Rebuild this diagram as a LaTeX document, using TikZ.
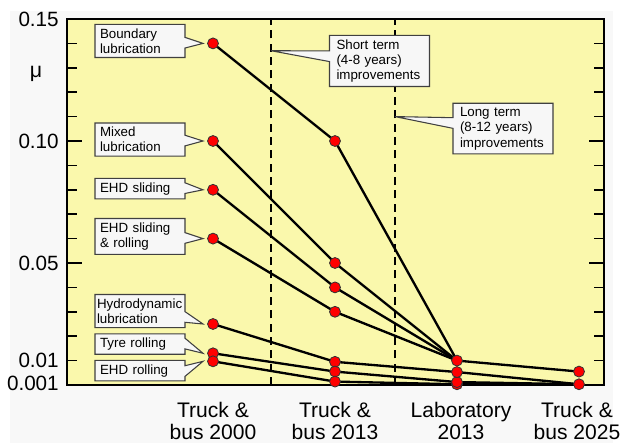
\documentclass[tikz,border=0pt]{standalone}
\usepackage{fontspec}
\setmainfont{Liberation Sans}
\usetikzlibrary{shapes.callouts}
\definecolor{plotbg}{RGB}{250,248,172}
\definecolor{panelbg}{RGB}{248,248,248}
\definecolor{boxbg}{RGB}{247,247,247}
\tikzset{
  dot/.style={circle,fill=red,draw=black!80,line width=0.6pt,minimum size=8.2pt,inner sep=0pt},
  link/.style={line width=1.75pt},
  callbox/.style={rectangle callout,fill=boxbg,draw=black!75,line width=0.8pt,callout pointer width=8pt,align=left,font=\fontsize{10}{11.5}\selectfont,inner ysep=3pt},
  leftbox/.style={callbox,text width=60pt,inner xsep=3.75pt},
  termbox/.style={callbox,text width=64.5pt,inner xsep=5.25pt},
  ticklab/.style={anchor=east,font=\fontsize{15.5}{17}\selectfont,inner sep=0pt},
  vehlab/.style={anchor=north,align=center,font=\fontsize{15.8}{16.5}\selectfont,inner sep=0pt}
}
\begin{document}
\begin{tikzpicture}[x=0.75pt,y=18.3pt]
            \useasboundingbox (-67,-2.377) rectangle (557,15.779);
            \fill[panelbg] (-57,-2.377) rectangle (546,15.33);
            \fill[plotbg] (0,0) rectangle (537,15);
            \foreach \m in {1,...,14} {
              \draw[line width=1.2pt] (0,\m) -- (10,\m);
              \draw[line width=1.2pt] (537,\m) -- (527,\m);
            }
            \draw[line width=1.2pt] (0,5) -- (15,5) (0,10) -- (15,10) (537,5) -- (522,5) (537,10) -- (522,10);
            \draw[line width=1.5pt] (0,0) rectangle (537,15);
            \draw[line width=1.5pt,dash pattern=on 6pt off 4pt] (204,0) -- (204,15);
            \draw[line width=1.5pt,dash pattern=on 6pt off 4pt] (328,0) -- (328,15);
            \coordinate (st) at (204,13.7);
            \coordinate (lt) at (328,11);
            \node[ticklab] at (-8,15) {0.15};
            \node[ticklab] at (-8,10) {0.10};
            \node[ticklab] at (-8,5) {0.05};
            \node[ticklab] at (-8,1) {0.01};
            \node[ticklab] at (-8,0.08) {0.001};
            \node[font=\fontsize{16}{17}\selectfont] (mu) at (-31,12.75) {μ};
            \coordinate (a1) at (146,14);
            \coordinate (a2) at (146,10);
            \coordinate (a3) at (146,8);
            \coordinate (a4) at (146,6);
            \coordinate (a5) at (146,2.5);
            \coordinate (a6) at (146,1.3);
            \coordinate (a7) at (146,0.97);
            \coordinate (b1) at (268,10);
            \coordinate (b2) at (268,5);
            \coordinate (b3) at (268,4);
            \coordinate (b4) at (268,3);
            \coordinate (b5) at (268,0.95);
            \coordinate (b6) at (268,0.55);
            \coordinate (b7) at (268,0.14);
            \coordinate (c1) at (390,1);
            \coordinate (c2) at (390,0.53);
            \coordinate (c3) at (390,0.12);
            \coordinate (c4) at (390,0.03);
            \coordinate (d1) at (512,0.55);
            \coordinate (d2) at (512,0.03);
            \draw[link] (a1) -- (b1) -- (c1);
            \draw[link] (a2) -- (b2) -- (c1);
            \draw[link] (a3) -- (b3) -- (c1);
            \draw[link] (a4) -- (b4) -- (c1);
            \draw[link] (a5) -- (b5) -- (c2);
            \draw[link] (a6) -- (b6) -- (c3);
            \draw[link] (a7) -- (b7) -- (c4);
            \draw[link] (c1) -- (d1);
            \draw[link] (c2) -- (d2);
            \draw[link] (c3) -- (d2);
            \draw[link] (c4) -- (d2);
            \foreach \p in {a1,a2,a3,a4,a5,a6,a7,b1,b2,b3,b4,b5,b6,b7,c4,c3,c2,c1,d2,d1}
              \node[dot] at (\p) {};
            \node[leftbox,callout absolute pointer={([xshift=-7.5pt]a1)}] (boundary) at (73,14.1) {Boundary\\lubrication};
            \node[leftbox,callout absolute pointer={([xshift=-7.5pt]a2)}] (mixed) at (73,10.06) {Mixed\\lubrication};
            \node[leftbox,callout absolute pointer={([xshift=-7.5pt]a3)}] (ehdslide) at (73,8.05) {EHD sliding};
            \node[leftbox,callout absolute pointer={([xshift=-7.5pt]a4)}] (ehdslideroll) at (73,6.09) {EHD sliding\\\& rolling};
            \node[leftbox,text width=64.5pt,inner xsep=1.5pt,callout absolute pointer={([xshift=-7.5pt]a5)}] (hydro) at (73,3.03) {Hydrodynamic\\lubrication};
            \node[leftbox,callout absolute pointer={([xshift=-7.5pt]a6)}] (tyre) at (73,1.68) {Tyre rolling};
            \node[leftbox,callout absolute pointer={([xshift=-7.5pt]a7)}] (ehdroll) at (73,0.59) {EHD rolling};
            \node[termbox,callout absolute pointer={(st)}] (shortterm) at (312.5,13.28) {Short term\\(4-8 years)\\improvements};
            \node[termbox,callout absolute pointer={(lt)}] (longterm) at (436,10.51) {Long term\\(8-12 years)\\improvements};
            \node[vehlab] (veh2000) at (146,-0.7) {Truck \&\\bus 2000};
            \node[vehlab] (veh2013) at (268,-0.7) {Truck \&\\bus 2013};
            \node[vehlab] (lab2013) at (394,-0.7) {Laboratory\\2013};
            \node[vehlab] (veh2025) at (510,-0.7) {Truck \&\\bus 2025};
        \end{tikzpicture}
\end{document}
